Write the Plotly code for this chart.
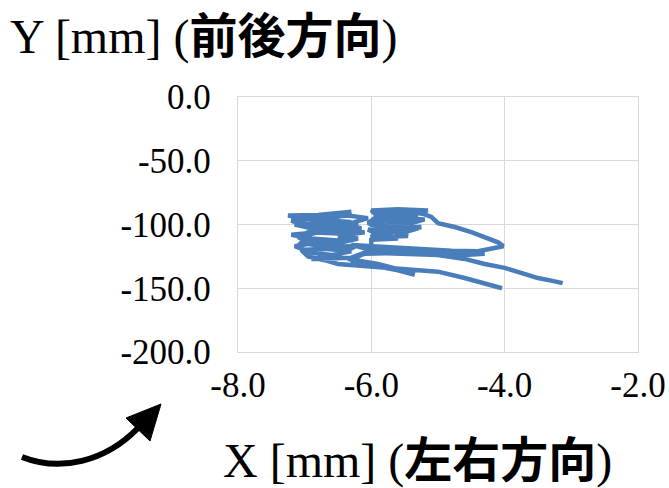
import plotly.graph_objects as go

# Trajectory (X = left-right, Y = front-back), mm
x_mm = [-4.04, -4.3, -4.6, -5.0, -5.5, -6.0, -6.5, -6.7,
        -6.95, -7.05, -6.7, -6.3, -6.6, -6.9, -7.15, -6.8, -6.4, -6.9, -7.2, -6.8, -6.4, -6.9, -7.15,
        -6.7, -6.3, -6.9, -7.25, -6.8, -6.3, -6.6, -7.0, -6.5, -6.2, -6.6, -6.1, -6.5, -6.2, -6.6, -6.25,
        -6.85, -7.1, -6.95, -6.5, -6.15, -6.45, -7.0, -7.2, -6.75, -6.35, -6.05, -6.5, -6.95, -7.05,
        -6.6, -6.2, -6.5, -6.9, -6.3, -6.0,
        -6.0, -5.6, -5.9, -6.05, -5.5, -5.3, -5.9, -6.0, -5.4, -5.2, -5.9, -6.0, -5.6, -5.15, -5.6, -5.95, -5.3,
        -5.8, -6.02, -5.7, -5.25, -5.5, -5.95, -6.0, -5.45, -5.75, -6.05, -5.85, -5.4, -5.2,
        -5.1, -5.0, -4.75, -4.5, -4.3, -4.1, -4.02, -4.2, -4.4, -4.8, -5.2, -5.6, -6.0, -6.3,
        -6.0, -5.5, -5.0, -4.6, -4.3, -4.7, -5.3, -6.1,
        -6.35, -5.9, -5.6, -5.35, -5.6, -6.0, -6.3,
        -6.1, -5.5, -5.0, -4.6, -4.3, -4.0, -3.7, -3.5, -3.3, -3.13]
y_mm = [-150, -146, -142, -137, -135, -133, -131, -128,
        -125, -120, -119, -121, -124, -122, -117, -114, -113, -111, -108, -106, -105, -103, -100,
        -99, -98, -96, -93, -92.5, -90, -94, -95.5, -97, -101, -104, -106, -109, -111, -116, -118,
        -115, -110, -106, -107, -103, -100, -101, -97, -95, -93, -95, -102, -108, -114,
        -119, -116, -124, -127, -126, -120,
        -112, -111, -108, -104, -106, -103, -101, -97, -99, -96, -94, -89, -88, -89, -91, -92, -93,
        -96, -100, -103, -102, -105, -107, -110, -109, -104, -99, -91, -90, -92,
        -94, -99, -102, -106, -110, -114, -117, -119, -121, -120.5, -119.5, -118.5, -117, -116,
        -120, -122, -123, -124, -123, -122.5, -122, -123,
        -127, -131, -135, -139.5, -136, -132, -129,
        -122, -123, -124, -127, -131, -134, -139, -142, -144, -146]

x_ticks = [-8, -6, -4, -2]
x_tick_labels = ["-8.0", "-6.0", "-4.0", "-2.0"]
y_ticks = [0, -50, -100, -150, -200]
y_tick_labels = ["0.0", "-50.0", "-100.0", "-150.0", "-200.0"]

W, H = 669, 488
L, R, T, B = 238, 31, 97, 136

fig = go.Figure()
fig.add_trace(go.Scatter(x=x_mm, y=y_mm, mode="lines",
                         line=dict(color="#4A7EBB", width=4.5), showlegend=False))

grid = "#D9D9D9"
tick_font = dict(family="Liberation Serif, Times New Roman, serif", size=35, color="black")
fig.update_layout(
    width=W, height=H,
    margin=dict(l=L, r=R, t=T, b=B, autoexpand=False),
    paper_bgcolor="white", plot_bgcolor="white",
    xaxis=dict(range=[-8, -2], tickvals=x_ticks, ticktext=x_tick_labels, showgrid=True,
               gridcolor=grid, gridwidth=1.3, zeroline=False, showline=True, mirror=True,
               linecolor=grid, linewidth=1.3, tickfont=tick_font, ticks="",
               ticklabelstandoff=2, automargin=False),
    yaxis=dict(range=[-200, 0], tickvals=y_ticks, ticktext=y_tick_labels, showgrid=True,
               gridcolor=grid, gridwidth=1.3, zeroline=False, showline=True, mirror=True,
               linecolor=grid, linewidth=1.3, tickfont=tick_font, ticks="",
               ticklabelstandoff=19, automargin=False),
)

def px(xp, yp):
    return (xp - L) / (W - L - R), (H - B - yp) / (H - T - B)

title_font = dict(family="Liberation Serif, Noto Sans CJK JP, serif", size=48, color="black")
ax, ay = px(8, 37)
fig.add_annotation(text="Y [mm] (<b>前後方向</b>)", x=ax, y=ay, xref="paper", yref="paper",
                   xanchor="left", yanchor="middle", showarrow=False, font=title_font)
ax, ay = px(417, 461)
fig.add_annotation(text="X [mm] (<b>左右方向</b>)", x=ax, y=ay, xref="paper", yref="paper",
                   xanchor="center", yanchor="middle", showarrow=False, font=title_font)

# curved arrow decoration
p0 = px(22, 457); c1 = px(60, 472); c2 = px(105, 462); p1 = px(138, 428)
fig.add_shape(type="path", xref="paper", yref="paper",
              path=f"M {p0[0]},{p0[1]} C {c1[0]},{c1[1]} {c2[0]},{c2[1]} {p1[0]},{p1[1]}",
              line=dict(color="black", width=6))
t0 = px(161, 404); t1 = px(126, 418); t2 = px(150, 441)
fig.add_shape(type="path", xref="paper", yref="paper",
              path=f"M {t0[0]},{t0[1]} L {t1[0]},{t1[1]} L {t2[0]},{t2[1]} Z",
              fillcolor="black", line=dict(color="black", width=1))

fig.write_html("out.html", config={"displayModeBar": False},
               post_script="document.body.style.margin='0px';document.body.style.overflow='hidden';")
